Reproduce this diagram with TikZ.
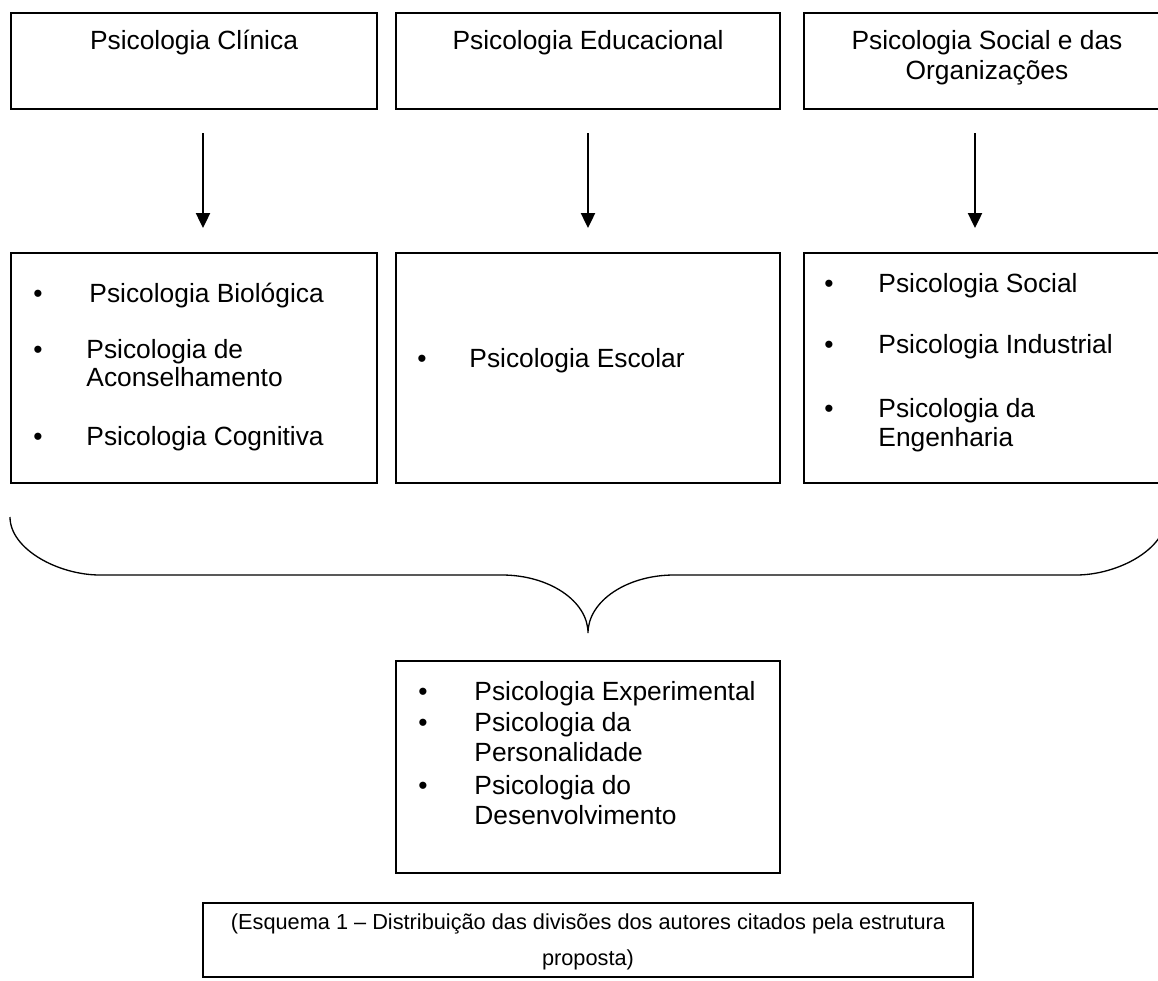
\documentclass[tikz,border=0pt]{standalone}
\usepackage{fontspec}
\setmainfont{Liberation Sans}
\usetikzlibrary{arrows.meta}
\def\px{0.016cm}
\tikzset{
  box/.style={draw, line width=0.75pt, inner sep=0pt},
  txt/.style={font=\fontsize{12}{14}\selectfont, inner sep=0pt, anchor=base west},
  ctxt/.style={txt, anchor=base},
  captxt/.style={font=\fontsize{9.9}{12}\selectfont, inner sep=0pt, anchor=base},
  arr/.style={-{Triangle[width=6.4pt,length=6.8pt]}, line width=0.9pt},
  brace/.style={line width=0.6pt}
}
\begin{document}
\begin{tikzpicture}[x=\px,y=-\px]
\useasboundingbox (0,0) rectangle (1158,980);

% top row
\node[box, minimum width=366*\px, minimum height=96*\px] (clin) at (194,61) {};
\node[ctxt] (clin-t) at (194,49) {Psicologia Clínica};

\node[box, minimum width=384*\px, minimum height=96*\px] (educ) at (588,61) {};
\node[ctxt] (educ-t) at (588,49) {Psicologia Educacional};

\node[box, minimum width=366*\px, minimum height=96*\px] (soc) at (987,61) {};
\node[ctxt] (soc-t1) at (987,49) {Psicologia Social e das};
\node[ctxt] (soc-t2) at (987,79) {Organizações};

% middle row
\node[box, minimum width=366*\px, minimum height=230*\px] (bio) at (194,368) {};
\node[ctxt] (bio-d1) at (38,302) {•};
\node[txt] (bio-t1) at (89,302) {Psicologia Biológica};
\node[ctxt] (bio-d2) at (38,358) {•};
\node[txt] (bio-t2) at (86,358) {Psicologia de};
\node[txt] (bio-t3) at (86,386) {Aconselhamento};
\node[ctxt] (bio-d3) at (38,445) {•};
\node[txt] (bio-t4) at (86,445) {Psicologia Cognitiva};

\node[box, minimum width=384*\px, minimum height=230*\px] (esc) at (588,368) {};
\node[ctxt] (esc-d1) at (422,367) {•};
\node[txt] (esc-t1) at (469,367) {Psicologia Escolar};

\node[box, minimum width=366*\px, minimum height=230*\px] (ind) at (987,368) {};
\node[ctxt] (ind-d1) at (829,292) {•};
\node[txt] (ind-t1) at (878,292) {Psicologia Social};
\node[ctxt] (ind-d2) at (829,353) {•};
\node[txt] (ind-t2) at (878,353) {Psicologia Industrial};
\node[ctxt] (ind-d3) at (829,417) {•};
\node[txt] (ind-t3) at (878,417) {Psicologia da};
\node[txt] (ind-t4) at (878,446) {Engenharia};

% arrows
\coordinate (clin-out) at (203,133);
\coordinate (bio-in) at (203,228);
\coordinate (educ-out) at (588,133);
\coordinate (esc-in) at (588,228);
\coordinate (soc-out) at (975,133);
\coordinate (ind-in) at (975,228);
\draw[arr] (clin-out) -- (bio-in);
\draw[arr] (educ-out) -- (esc-in);
\draw[arr] (soc-out) -- (ind-in);

% brace
\draw[brace] (10,517) .. controls (10,549) and (58,575) .. (100,575) -- (502,575)
  .. controls (549,575) and (588,601) .. (588,633)
  .. controls (588,601) and (627,575) .. (674,575) -- (1076,575)
  .. controls (1118,575) and (1166,549) .. (1166,517);

% bottom box
\node[box, minimum width=384*\px, minimum height=212*\px] (exp) at (588,767) {};
\node[ctxt] (exp-d1) at (423,700) {•};
\node[txt] (exp-t1) at (474,700) {Psicologia Experimental};
\node[ctxt] (exp-d2) at (423,731) {•};
\node[txt] (exp-t2) at (474,731) {Psicologia da};
\node[txt] (exp-t3) at (474,761) {Personalidade};
\node[ctxt] (exp-d3) at (423,794) {•};
\node[txt] (exp-t4) at (474,794) {Psicologia do};
\node[txt] (exp-t5) at (474,824) {Desenvolvimento};

% caption
\node[box, minimum width=770*\px, minimum height=74*\px] (capbox) at (588,940) {};
\node[captxt] (cap-t1) at (588,929) {(Esquema 1 – Distribuição das divisões dos autores citados pela estrutura};
\node[captxt] (cap-t2) at (588,965) {proposta)};
\end{tikzpicture}
\end{document}
